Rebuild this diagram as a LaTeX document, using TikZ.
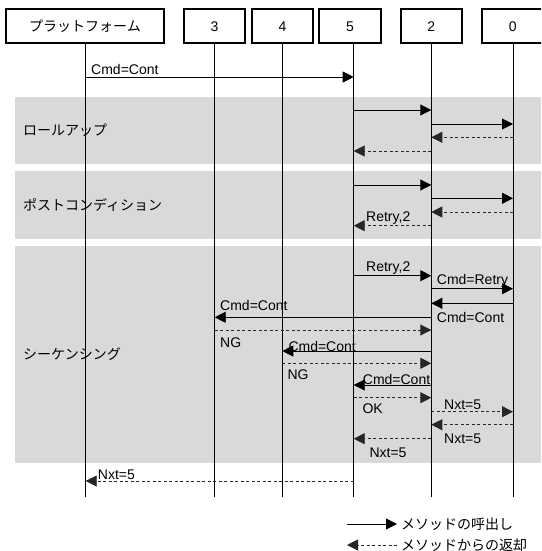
\documentclass[tikz,border=0pt]{standalone}
\usepackage{fontspec}
\setmainfont{Liberation Sans}
\newfontfamily\jp{Noto Sans CJK JP}
\usetikzlibrary{arrows.meta}
\definecolor{bandgray}{RGB}{217,217,217}
\begin{document}
\begin{tikzpicture}[x=1pt,y=-1pt,
  box/.style={draw,line width=2pt,minimum height=34pt,inner sep=0pt,fill=white,font=\fontsize{14}{16}\selectfont},
  life/.style={line width=0.9pt},
  call/.style={line width=0.9pt,-{Triangle[length=11pt,width=11pt]}},
  ret/.style={line width=0.9pt,black!85,dash pattern=on 3pt off 2.5pt,-{Triangle[length=11pt,width=11pt]}},
  lbl/.style={anchor=base west,inner sep=0pt,font=\fontsize{14}{16}\selectfont},
  sec/.style={anchor=west,inner sep=0pt,font=\jp\fontsize{14}{16}\selectfont},
  leg/.style={anchor=west,inner sep=0pt,font=\jp\fontsize{14}{16}\selectfont}]
\useasboundingbox (0,0) rectangle (541,551);
\clip (0,0) rectangle (541,551);
% bands
\fill[bandgray] (15,97.3) rectangle (541,164.3);
\fill[bandgray] (15,171.3) rectangle (541,239);
\fill[bandgray] (15,245.7) rectangle (541,463.3);
% section labels
\node[sec] (s1) at (23,130.7) {ロールアップ};
\node[sec] (s2) at (23,205) {ポストコンディション};
\node[sec] (s3) at (23,354.5) {シーケンシング};
% boxes
\node[box,minimum width=158pt] (p) at (85,26.3) {\jp プラットフォーム};
\node[box,minimum width=61pt] (n3) at (214.5,26.3) {3};
\node[box,minimum width=61pt] (n4) at (282.5,26.3) {4};
\node[box,minimum width=61.7pt] (n5) at (349.9,26.3) {5};
\node[box,minimum width=61pt] (n2) at (431.2,26.3) {2};
\node[box,minimum width=61pt] (n0) at (512.8,26.3) {0};
% lifelines
\coordinate (lp) at (85.7,43.3);
\coordinate (l3) at (214.7,43.3);
\coordinate (l4) at (282.3,43.3);
\coordinate (l5) at (353.7,43.3);
\coordinate (l2) at (431.3,43.3);
\coordinate (l0) at (513,43.3);
\foreach \l in {lp,l3,l4,l5,l2,l0}{\draw[life] (\l) -- (\l |- 0,496.7);}
% initial call
\draw[call] (lp |- 0,77) -- (l5 |- 0,77);
\node[lbl] at (91,74.7) {Cmd=Cont};
% roll-up
\draw[call] (l5 |- 0,110) -- (l2 |- 0,110);
\draw[call] (l2 |- 0,124) -- (l0 |- 0,124);
\draw[ret] (l0 |- 0,137.3) -- (l2 |- 0,137.3);
\draw[ret] (l2 |- 0,151) -- (l5 |- 0,151);
% post condition
\draw[call] (l5 |- 0,185) -- (l2 |- 0,185);
\draw[call] (l2 |- 0,198.3) -- (l0 |- 0,198.3);
\draw[ret] (l0 |- 0,212) -- (l2 |- 0,212);
\draw[ret] (l2 |- 0,225.7) -- (l5 |- 0,225.7);
\node[lbl] at (366,221.7) {Retry,2};
% sequencing
\draw[call] (l5 |- 0,275.7) -- (l2 |- 0,275.7);
\node[lbl] at (366,271.7) {Retry,2};
\draw[call] (l2 |- 0,288.7) -- (l0 |- 0,288.7);
\node[lbl] at (436.7,284.7) {Cmd=Retry};
\draw[call] (l0 |- 0,303.3) -- (l2 |- 0,303.3);
\draw[call] (l2 |- 0,317.3) -- (l3 |- 0,317.3);
\node[lbl] at (220,310) {Cmd=Cont};
\node[lbl] at (436.7,322.7) {Cmd=Cont};
\draw[ret] (l3 |- 0,330) -- (l2 |- 0,330);
\node[lbl] at (220,347.3) {NG};
\draw[call] (l2 |- 0,351) -- (l4 |- 0,351);
\node[lbl] at (288.3,351.7) {Cmd=Cont};
\draw[ret] (l4 |- 0,363.3) -- (l2 |- 0,363.3);
\node[lbl] at (287.3,379.3) {NG};
\draw[call] (l2 |- 0,385) -- (l5 |- 0,385);
\node[lbl] at (362.7,384.3) {Cmd=Cont};
\draw[ret] (l5 |- 0,397.7) -- (l2 |- 0,397.7);
\node[lbl] at (362.3,413.3) {OK};
\draw[ret] (l2 |- 0,411.7) -- (l0 |- 0,411.7);
\node[lbl] at (444,409.3) {Nxt=5};
\draw[ret] (l0 |- 0,424.7) -- (l2 |- 0,424.7);
\node[lbl] at (444,443.3) {Nxt=5};
\draw[ret] (l2 |- 0,438.7) -- (l5 |- 0,438.7);
\node[lbl] at (369.3,457.3) {Nxt=5};
% final return
\draw[ret] (l5 |- 0,481) -- (lp |- 0,481);
\node[lbl] at (97.7,479.3) {Nxt=5};
% legend
\node[leg] (t1) at (401,524) {メソッドの呼出し};
\node[leg] (t2) at (401,545) {メソッドからの返却};
\coordinate (c1) at (347,524);
\coordinate (c2) at (347,545);
\draw[call] (c1) -- ([xshift=-4pt]t1.west);
\draw[ret] ([xshift=-4pt]t2.west) -- (c2);
\end{tikzpicture}
\end{document}
